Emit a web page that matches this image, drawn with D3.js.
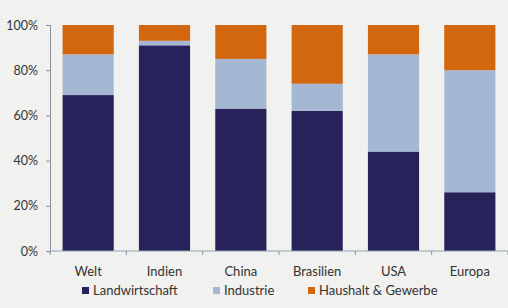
<!DOCTYPE html>
<html>
<head>
<meta charset="utf-8">
<script src="https://cdn.jsdelivr.net/npm/d3@7"></script>
<style>
  body { margin: 0; background: #f1f1ef; }
  text { font-family: Lato, "Open Sans", sans-serif; fill: #333; }
</style>
</head>
<body>
<div id="chart"></div>
<script>
var categories = ["Welt", "Indien", "China", "Brasilien", "USA", "Europa"];
var seriesNames = ["Landwirtschaft", "Industrie", "Haushalt & Gewerbe"];
var landwirtschaft = [69, 91, 63, 62, 44, 26];
var industrie = [18, 2, 22, 12, 43, 54];
var haushalt = [13, 7, 15, 26, 13, 20];
var yTicks = [0, 0.2, 0.4, 0.6, 0.8, 1];
var colors = ["#27225a", "#a4b8d3", "#d2670f"];

var width = 508, height = 308;

var svg = d3.select("#chart").append("svg")
  .attr("width", width)
  .attr("height", height);

var table = categories.map(function (c, i) {
  return { cat: c, "Landwirtschaft": landwirtschaft[i], "Industrie": industrie[i], "Haushalt & Gewerbe": haushalt[i] };
});
var stacked = d3.stack().keys(seriesNames)(table);

var x = d3.scaleBand().domain(categories).range([50, 508]).paddingInner(0.33).paddingOuter(0.165);
var y = d3.scaleLinear().domain([0, 1]).range([251, 25]);

svg.append("g").selectAll("g")
  .data(stacked)
  .enter().append("g")
  .attr("fill", function (d, i) { return colors[i]; })
  .selectAll("rect")
  .data(function (d) { return d; })
  .enter().append("rect")
  .attr("x", function (d) { return x(d.data.cat); })
  .attr("width", x.bandwidth())
  .attr("y", function (d) { return y(d[1] / 100); })
  .attr("height", function (d) { return y(d[0] / 100) - y(d[1] / 100); });

// y axis
var yAxis = svg.append("g")
  .attr("transform", "translate(50,0)")
  .call(d3.axisLeft(y).tickValues(yTicks).tickFormat(d3.format(".0%")).tickSize(4).tickPadding(8));
yAxis.select(".domain").attr("stroke", "#8a8f96");
yAxis.selectAll(".tick line").attr("stroke", "#8a8f96");
yAxis.selectAll("text").style("font-size", "12.5px").attr("fill", "#333");

// x axis with ticks between categories
var step = x.step();
var bounds = d3.range(categories.length + 1).map(function (i) { return 50 + i * step; });
var xg = svg.append("g");
xg.append("line").attr("x1", 50).attr("x2", 508).attr("y1", 251).attr("y2", 251)
  .attr("stroke", "#8fa3b5");
xg.selectAll(".bt").data(bounds).enter().append("line")
  .attr("x1", function (d) { return d; }).attr("x2", function (d) { return d; })
  .attr("y1", 251).attr("y2", 255).attr("stroke", "#8a8f96");
xg.selectAll(".cl").data(categories).enter().append("text")
  .attr("x", function (d) { return x(d) + x.bandwidth() / 2; })
  .attr("y", 276)
  .attr("text-anchor", "middle")
  .style("font-size", "13px")
  .text(function (d) { return d; });

// legend
var legendX = [82, 213, 308];
var lg = svg.append("g").selectAll("g").data(seriesNames).enter().append("g")
  .attr("transform", function (d, i) { return "translate(" + legendX[i] + ",287)"; });
lg.append("rect").attr("width", 7).attr("height", 7).attr("fill", function (d, i) { return colors[i]; });
lg.append("text").attr("x", 11).attr("y", 8).style("font-size", "13px").text(function (d) { return d; });
</script>
</body>
</html>
